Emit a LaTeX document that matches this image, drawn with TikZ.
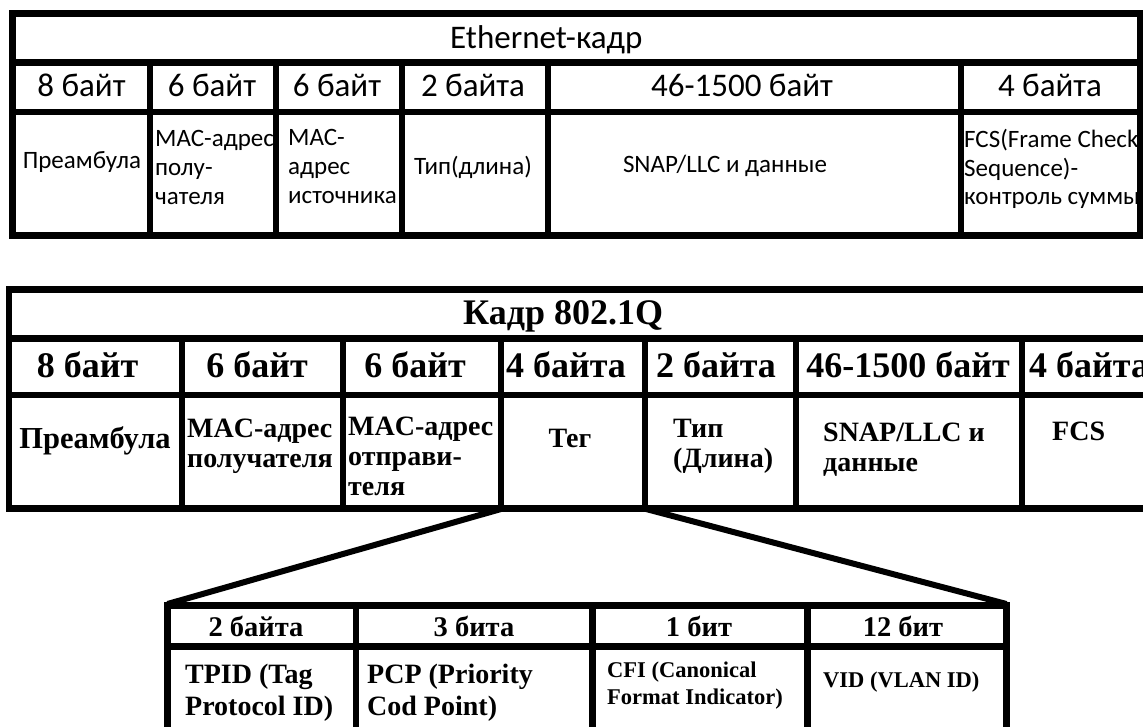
\documentclass[tikz,border=0pt]{standalone}
\usepackage{fontspec}
\setmainfont{Liberation Serif}
\newfontfamily\calib{Carlito}
\newfontfamily\tnr{Liberation Serif}
\begin{document}
\begin{tikzpicture}[x=1pt,y=-1pt,
  rule/.style={draw=black,line width=6.5pt},
  outer/.style={draw=black,line width=7pt},
  link/.style={draw=black,line width=6pt},
  ehead/.style={inner sep=0pt,anchor=base,font=\calib\fontsize{33}{40}\selectfont},
  ebody/.style={inner sep=0pt,anchor=base west,align=left,font=\calib\fontsize{25}{29}\selectfont},
  qhead/.style={inner sep=0pt,anchor=base,font=\tnr\bfseries\fontsize{36}{40}\selectfont},
  qbody/.style={inner sep=0pt,anchor=base west,align=left,font=\tnr\bfseries\fontsize{28}{30}\selectfont},
  shead/.style={inner sep=0pt,anchor=base,font=\tnr\bfseries\fontsize{28.5}{31}\selectfont},
  sbody/.style={inner sep=0pt,anchor=base west,align=left,font=\tnr\bfseries\fontsize{28}{32}\selectfont},
  ssmall/.style={inner sep=0pt,anchor=base west,align=left,font=\tnr\bfseries\fontsize{22.5}{27}\selectfont}]
\useasboundingbox (0,0) rectangle (1143,727);
\fill[white] (0,0) rectangle (1143,727);
\clip (0,0) rectangle (1143,727);

% ---------- Ethernet frame ----------
% (multi-line nodes are placed by the baseline of their last line)
\node[ehead,anchor=base west] (etitle) at (450,49) {Ethernet-кадр};
\node[ehead] (eh1) at (81.5,97) {8 байт};
\node[ehead] (eh2) at (212,97) {6 байт};
\node[ehead] (eh3) at (337,97) {6 байт};
\node[ehead] (eh4) at (473,97) {2 байта};
\node[ehead] (eh5) at (742,97) {46-1500 байт};
\node[ehead] (eh6) at (1050,97) {4 байта};
\node[ebody,anchor=base] (e1) at (82,169) {Преамбула};
\node[ebody] (e2) at (155,205) {MAC-адрес\\полу-\\чателя};
\node[ebody] (e3) at (288,204) {MAC-\\адрес\\источника};
\node[ebody,anchor=base] (e4) at (473,175) {Тип(длина)};
\node[ebody,anchor=base] (e5) at (725,173) {SNAP/LLC и данные};
\node[ebody,font=\calib\fontsize{25}{28.5}\selectfont] (e6) at (964,205) {FCS(Frame Check\\Sequence)-\\контроль суммы};

\draw[outer] (12,13.5) rectangle (1140,236);
\draw[rule] (12,62.5) -- (1140,62.5);
\draw[rule] (12,112) -- (1140,112);
\foreach \x in {150,276,402,548,961} \draw[rule] (\x,62.5) -- (\x,236);

% ---------- 802.1Q frame ----------
\node[qhead,anchor=base west] (qtitle) at (463,324) {Кадр 802.1Q};
\node[qhead] (qh1) at (87.5,377) {8 байт};
\node[qhead] (qh2) at (257,377) {6 байт};
\node[qhead] (qh3) at (415,377) {6 байт};
\node[qhead] (qh4) at (566,377) {4 байта};
\node[qhead] (qh5) at (716,377) {2 байта};
\node[qhead] (qh6) at (908,377) {46-1500 байт};
\node[qhead,anchor=base west] (qh7) at (1029,377) {4 байта};
\node[qbody,anchor=base,font=\tnr\bfseries\fontsize{30.5}{30}\selectfont] (q1) at (95,448) {Преамбула};
\node[qbody] (q2) at (187,467) {MAC-адрес\\получателя};
\node[qbody] (q3) at (348,495) {MAC-адрес\\отправи-\\теля};
\node[qbody,anchor=base] (q4) at (570,447) {Тег};
\node[qbody] (q5) at (673,467) {Тип\\(Длина)};
\node[qbody] (q6) at (823,471) {SNAP/LLC и\\данные};
\node[qbody] (q7) at (1052,440) {FCS};

\draw[rule] (9,289.5) rectangle (1170,508.5);
\draw[rule] (9,338.5) -- (1170,338.5);
\draw[rule] (9,395) -- (1170,395);
\foreach \x in {182,343,501,645,796,1022} \draw[rule] (\x,338.5) -- (\x,512);

% ---------- tag fields ----------
\node[shead] (sh1) at (256,636) {2 байта};
\node[shead] (sh2) at (474,636) {3 бита};
\node[shead] (sh3) at (699,636) {1 бит};
\node[shead] (sh4) at (903,636) {12 бит};
\node[sbody] (s1) at (185,715) {TPID (Tag\\Protocol ID)};
\node[sbody] (s2) at (367,715) {PCP (Priority\\Cod Point)};
\node[ssmall] (s3) at (607,704) {CFI (Canonical\\Format Indicator)};
\node[ssmall] (s4) at (823,687) {VID (VLAN ID)};

\draw[rule] (167.5,740) -- (167.5,605.5) -- (1006.5,605.5) -- (1006.5,740);
\draw[rule] (167.5,646.5) -- (1006.5,646.5);
\foreach \x in {356,592.5,807.5} \draw[rule] (\x,605.5) -- (\x,740);

% ---------- expansion lines ----------
\coordinate (tagBL) at (501,509);
\coordinate (tagBR) at (646,509);
\coordinate (subTL) at (167.5,604);
\coordinate (subTR) at (1006.5,604);
\draw[link] (tagBL) -- (subTL);
\draw[link] (tagBR) -- (subTR);
\end{tikzpicture}
\end{document}
